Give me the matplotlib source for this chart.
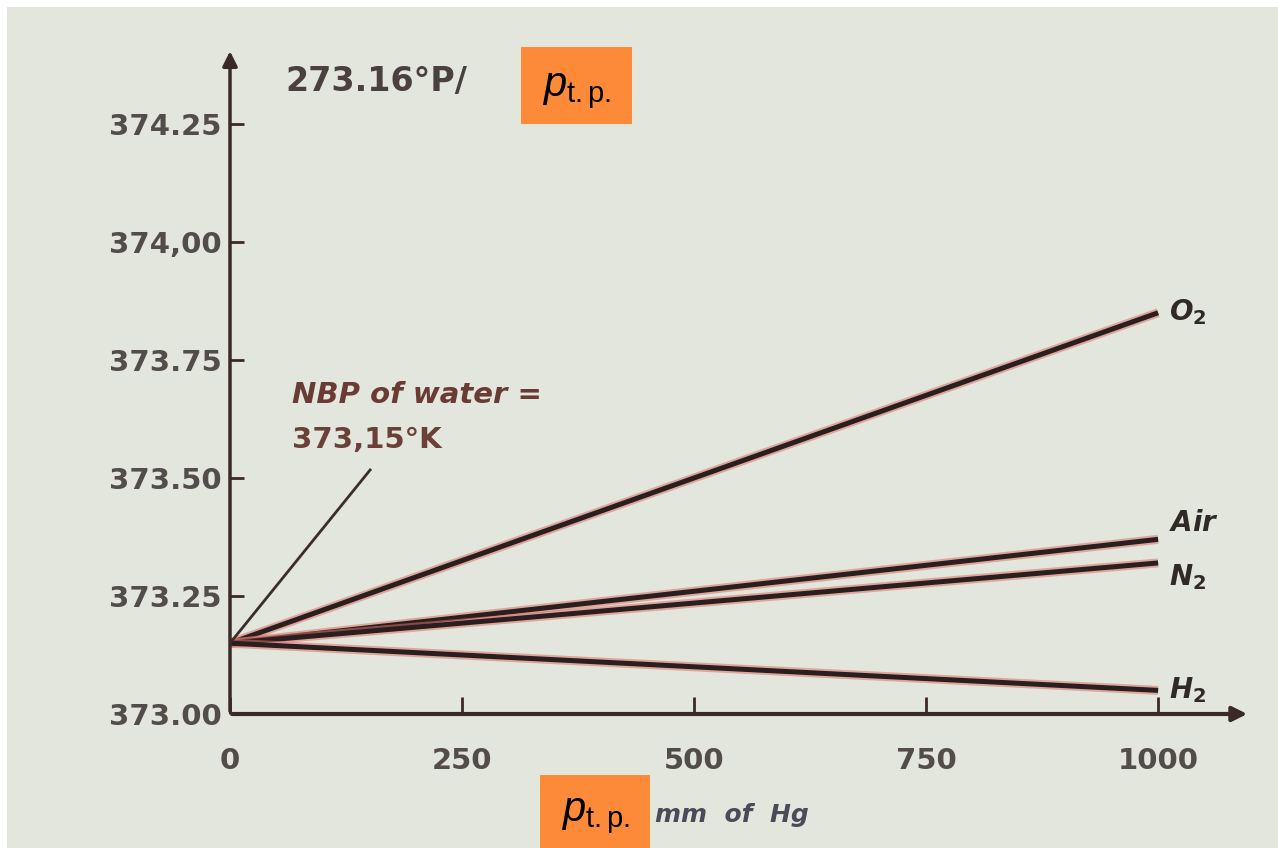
import matplotlib.pyplot as plt
from matplotlib.patches import Rectangle

plt.rcParams['mathtext.fontset'] = 'custom'
plt.rcParams['mathtext.rm'] = 'Liberation Sans'
plt.rcParams['mathtext.it'] = 'Liberation Sans:italic'
plt.rcParams['mathtext.bf'] = 'DejaVu Sans:bold'
plt.rcParams['mathtext.bfit'] = 'DejaVu Sans:italic:bold'

# data
pressure = [0, 1000]
o2 = [373.15, 373.85]
air = [373.15, 373.37]
n2 = [373.15, 373.32]
h2 = [373.15, 373.05]
series_names = [r'$\mathbfit{O}_\mathbf{2}$', r'$\mathbfit{Air}$',
                r'$\mathbfit{N}_\mathbf{2}$', r'$\mathbfit{H}_\mathbf{2}$']
label_shift = [0, 12, -10, 0]   # points, keeps Air / N2 apart

x_ticks = [0, 250, 500, 750, 1000]
y_ticks = [373.00, 373.25, 373.50, 373.75, 374.00, 374.25]
y_tick_labels = ['373.00', '373.25', '373.50', '373.75', '374,00', '374.25']

bg = '#e3e6dc'
ink = '#2a1e1e'
text_col = '#524c4a'

fig = plt.figure(figsize=(12.78, 8.48), dpi=100)
fig.patch.set_facecolor('white')
fig.patches.append(Rectangle((7 / 1278, 0), 1, 1 - 7 / 848, transform=fig.transFigure,
                             facecolor=bg, edgecolor='none', zorder=-10))

ax = fig.add_axes([230 / 1278, 134 / 848, 1020 / 1278, 659 / 848])
ax.set_facecolor('none')
ax.set_xlim(0, 1099)
ax.set_ylim(373.0, 374.396)
for s in ax.spines.values():
    s.set_visible(False)

# axes drawn as arrows
ax.annotate('', xy=(1099, 373.0), xytext=(0, 373.0),
            arrowprops=dict(arrowstyle='-|>', color='#3a2a26', lw=3, mutation_scale=22),
            annotation_clip=False)
ax.annotate('', xy=(0, 374.41), xytext=(0, 373.0),
            arrowprops=dict(arrowstyle='-|>', color='#3a2a26', lw=2.5, mutation_scale=22),
            annotation_clip=False)

ax.set_xticks(x_ticks)
ax.set_xticklabels([str(v) for v in x_ticks])
ax.set_yticks(y_ticks)
ax.set_yticklabels(y_tick_labels)
ax.tick_params(axis='x', direction='in', length=12, width=2, color='#3a2a26',
               labelsize=21, labelcolor=text_col, pad=24)
ax.tick_params(axis='y', direction='in', length=10, width=2, color='#3a2a26',
               labelsize=21, labelcolor=text_col, pad=6)
for lab in ax.get_xticklabels() + ax.get_yticklabels():
    lab.set_fontweight('bold')

for vals, name, dy in zip([o2, air, n2, h2], series_names, label_shift):
    ax.plot(pressure, vals, color='#d9736a', lw=6.5, alpha=0.55, solid_capstyle='butt')
    ax.plot(pressure, vals, color=ink, lw=3.6, solid_capstyle='butt')
    ax.annotate(name, xy=(1000, vals[-1]), xytext=(8, dy), textcoords='offset points',
                fontsize=20, color='#2f2a28', va='center', ha='left')

# NBP annotation
ax.plot([0, 151], [373.15, 373.517], color='#3a2e28', lw=2)
ax.text(67, 373.676, 'NBP of water =', fontsize=21, style='italic', fontweight='bold',
        color='#6a3a34', va='center')
ax.text(67, 373.58, '373,15°K', fontsize=21, fontweight='bold',
        color='#6a4038', va='center')

# axis titles
fig.text(285 / 1278, 1 - 82 / 848, '273.16°P/', fontsize=24, fontweight='bold',
         color='#4a4040', va='center', ha='left')
fig.text(655 / 1278, 1 - 815 / 848, 'mm  of  Hg', fontsize=18, style='italic',
         fontweight='bold', color='#4a4a58', va='center', ha='left')

# orange overlay boxes
for x0, y0, w, h in [(521, 47, 111, 77), (540, 775, 110, 73)]:
    fig.patches.append(Rectangle((x0 / 1278, 1 - (y0 + h) / 848), w / 1278, h / 848,
                                 transform=fig.transFigure, facecolor='#fd8a38',
                                 edgecolor='none', zorder=5))
    fig.text((x0 + w / 2) / 1278, 1 - (y0 + h / 2 + 4) / 848, r'$p_{\mathrm{t.p.}}$',
             fontsize=30, color='black', ha='center', va='center', zorder=6)

fig.savefig('out.png', dpi=100, facecolor=fig.get_facecolor())
